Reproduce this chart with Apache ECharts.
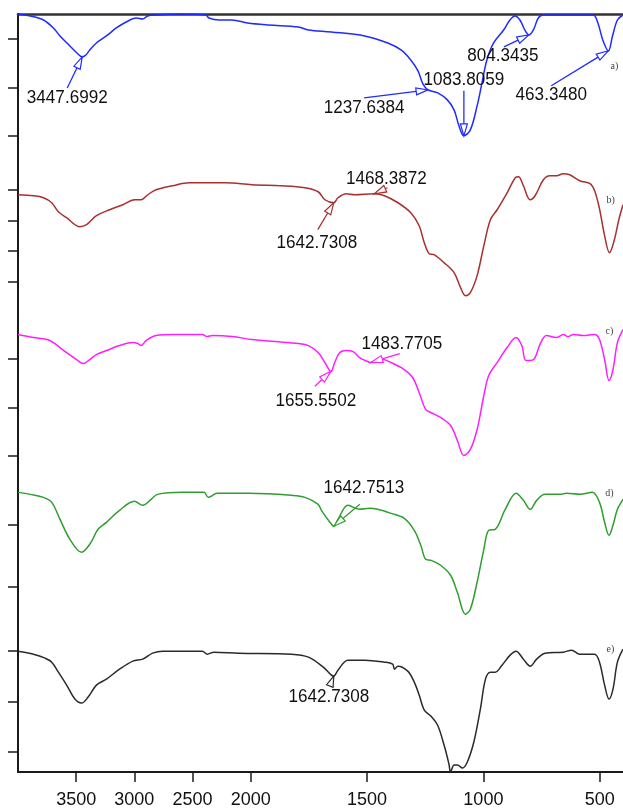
<!DOCTYPE html>
<html>
<head>
<meta charset="utf-8">
<script src="https://cdn.jsdelivr.net/npm/echarts@6/dist/echarts.min.js"></script>
<style>
  html, body { margin: 0; padding: 0; background: #fff; }
  #chart { width: 623px; height: 809px; }
</style>
</head>
<body>
<div id="chart"></div>
<script>
// FTIR spectra, stacked: [wavenumber (cm-1), transmittance (a.u., offset per trace)]
const spectrumA = [
  [4000,759],[3895,757],[3781,753],[3696,745],[3639,737],[3554,727],[3494,720],[3448,716],
  [3417,718],[3383,723],[3326,730],[3240,737],[3155,745],[3070,751],[2984,755],[2928,754],
  [2886,757],[2814,758],[2614,759],[2386,758],[2359,755],[2273,753],[2162,753],[2027,750],
  [1923,748],[1795,746],[1752,743],[1653,741],[1510,737],[1411,730],[1354,723],[1312,713],
  [1281,702],[1260,689],[1238,683],[1196,680],[1155,673],[1126,663],[1105,647],[1084,637],
  [1056,643],[1027,667],[1006,690],[985,713],[956,730],[913,743],[886,753],[864,757],
  [843,753],[822,743],[804,738],[785,743],[764,755],[742,758],[529,758],[508,750],
  [487,733],[463,722],[445,737],[424,753],[400,758]
];
const spectrumB = [
  [4000,578],[3867,577],[3781,575],[3710,570],[3653,561],[3582,555],[3468,546],[3411,548],
  [3326,557],[3212,563],[3099,568],[2999,573],[2942,573],[2885,578],[2813,583],[2672,587],
  [2529,590],[2386,590],[2216,590],[1994,588],[1866,587],[1767,585],[1710,581],[1681,573],
  [1643,570],[1625,575],[1589,579],[1553,578],[1468,579],[1425,577],[1367,570],[1312,560],
  [1276,547],[1254,530],[1233,519],[1212,518],[1169,510],[1126,500],[1098,485],[1077,477],
  [1056,480],[1027,497],[998,527],[970,553],[941,563],[898,580],[863,595],[849,596],
  [828,587],[799,573],[778,577],[742,593],[714,597],[685,597],[657,599],[629,598],
  [586,592],[536,588],[507,570],[479,537],[458,520],[437,533],[418,553],[400,568]
];
const spectrumC = [
  [4000,438],[3867,435],[3752,433],[3696,430],[3639,425],[3582,420],[3496,413],[3440,409],
  [3383,413],[3326,418],[3240,422],[3127,427],[3013,430],[2971,429],[2942,427],[2899,432],
  [2813,437],[2672,438],[2416,438],[2373,436],[2330,437],[2160,436],[1994,433],[1895,431],
  [1795,429],[1752,427],[1710,420],[1681,410],[1655,401],[1639,410],[1617,420],[1589,422],
  [1560,421],[1532,415],[1497,411],[1484,410],[1446,414],[1397,410],[1340,403],[1304,395],
  [1276,380],[1248,363],[1226,360],[1184,355],[1141,347],[1112,332],[1084,317],[1056,323],
  [1027,343],[998,377],[977,397],[941,410],[898,425],[860,435],[835,427],[817,412],
  [785,413],[757,428],[729,437],[686,435],[657,438],[636,436],[614,438],[571,437],
  [522,438],[501,433],[479,413],[460,392],[443,403],[424,430],[400,443]
];
const spectrumD = [
  [4000,280],[3895,278],[3781,275],[3710,270],[3639,253],[3554,233],[3454,220],[3383,228],
  [3312,243],[3240,250],[3127,262],[2999,271],[2928,267],[2856,273],[2800,278],[2587,280],
  [2401,280],[2365,275],[2288,279],[2017,279],[1824,277],[1767,275],[1710,268],[1696,262],
  [1653,248],[1643,246],[1625,253],[1582,267],[1532,263],[1489,264],[1454,263],[1397,259],
  [1340,254],[1297,242],[1269,227],[1248,213],[1226,212],[1184,207],[1141,197],[1112,180],
  [1077,158],[1056,163],[1027,190],[998,223],[977,242],[949,243],[906,263],[859,279],
  [828,272],[799,263],[771,272],[735,278],[671,278],[643,279],[586,278],[532,280],
  [501,270],[479,250],[460,237],[443,247],[424,263],[400,273]
];
const spectrumE = [
  [4000,121],[3867,118],[3767,114],[3710,110],[3653,100],[3582,87],[3511,73],[3454,69],
  [3397,75],[3326,87],[3240,93],[3127,103],[3013,111],[2928,113],[2843,119],[2757,121],
  [2416,121],[2373,118],[2316,120],[2102,119],[1824,118],[1752,115],[1688,105],[1653,97],
  [1643,96],[1625,102],[1582,112],[1510,112],[1425,110],[1390,108],[1382,103],[1367,106],
  [1325,101],[1297,90],[1276,77],[1254,62],[1226,56],[1197,47],[1169,27],[1148,8],
  [1141,0],[1126,7],[1112,7],[1090,4],[1069,10],[1041,30],[1013,63],[991,93],
  [970,100],[949,100],[920,107],[885,117],[860,121],[828,113],[799,106],[771,113],
  [735,119],[657,120],[621,122],[586,118],[522,118],[501,110],[479,87],[460,73],
  [443,83],[424,110],[400,123]
];

const traceNames = ['a)', 'b)', 'c)', 'd)', 'e)'];
const traceColors = ['#1f2bff', '#a8302e', '#ff1eff', '#2f9e2f', '#2a2a2a'];
const wavenumberTicks = [3500, 3000, 2500, 2000, 1500, 1000, 500];
const intensityTicks = [734, 685, 637, 583, 552, 522, 491, 414, 365, 317, 248, 185, 121, 70, 20];

// Peak annotations: trace index and the peak wavenumber as printed
const peakLabels = [
  [0, '3447.6992'], [0, '1237.6384'], [0, '1083.8059'], [0, '804.3435'], [0, '463.3480'],
  [1, '1642.7308'], [1, '1468.3872'],
  [2, '1655.5502'], [2, '1483.7705'],
  [3, '1642.7513'],
  [4, '1642.7308']
];

const spectra = [spectrumA, spectrumB, spectrumC, spectrumD, spectrumE];

// Instrument-style abscissa: the region above 2000 cm-1 is compressed by a factor of 2
function toAxis(w) { return w <= 2000 ? w : 2000 + (w - 2000) / 2; }
function fromAxis(u) { return u <= 2000 ? u : 2000 + (u - 2000) * 2; }

function valueAt(spec, w) {
  for (let i = 0; i < spec.length - 1; i++) {
    const [w0, v0] = spec[i], [w1, v1] = spec[i + 1];
    if (w <= w0 && w >= w1) {
      const t = (w0 - w) / (w0 - w1);
      return v0 + t * (v1 - v0);
    }
  }
  return spec[spec.length - 1][1];
}

const chart = echarts.init(document.getElementById('chart'), null, { renderer: 'canvas' });
const font = '"Liberation Sans", Arial, Helvetica, sans-serif';

chart.setOption({
  animation: false,
  backgroundColor: '#ffffff',
  grid: { left: 18, right: -4, top: 14, bottom: 36 },
  xAxis: [
    {
      type: 'value', min: 400, max: 3000, inverse: true, position: 'bottom',
      axisLine: { show: true, onZero: false, lineStyle: { color: '#1a1a1a', width: 2 } },
      axisTick: { show: true, inside: false, length: 10, customValues: wavenumberTicks.map(toAxis),
                  lineStyle: { color: '#1a1a1a', width: 1.5 } },
      axisLabel: { show: true, customValues: wavenumberTicks.map(toAxis), margin: 19,
                   formatter: v => String(Math.round(fromAxis(v))),
                   fontSize: 18, color: '#111', fontFamily: font },
      splitLine: { show: false }
    },
    {
      type: 'value', min: 400, max: 3000, inverse: true, position: 'top',
      axisLine: { show: true, onZero: false, lineStyle: { color: '#333', width: 2.5 } },
      axisTick: { show: false }, axisLabel: { show: false }, splitLine: { show: false }
    }
  ],
  yAxis: {
    type: 'value', min: 0, max: 759,
    axisLine: { show: true, onZero: false, lineStyle: { color: '#1a1a1a', width: 2 } },
    axisTick: { show: true, inside: false, length: 10, customValues: intensityTicks,
                lineStyle: { color: '#1a1a1a', width: 1.5 } },
    axisLabel: { show: false },
    splitLine: { show: false }
  },
  series: spectra.map((spec, i) => ({
    name: traceNames[i],
    type: 'line',
    xAxisIndex: 0,
    showSymbol: false,
    smooth: 0.35,
    lineStyle: { color: traceColors[i], width: 1.5 },
    itemStyle: { color: traceColors[i] },
    data: spec.map(([w, v]) => [toAxis(w), v])
  }))
});

// Arrow start and text centre, in pixels relative to the arrow tip
const labelOffsets = [
  [[-15, 31], [-15, 41]], [[-64, 8], [-64, 18]], [[0, -45], [0, -56]], [[-25, 12], [-26, 21]], [[-57, 35], [-57, 44]],
  [[-16, 27], [-17, 40]], [[13, -6], [12, -15]],
  [[-16, 15], [-15, 30]], [[29, -9], [31, -18]],
  [[26, -22], [30, -38]],
  [[-4, 10], [-5, 21]]
];

const graphics = [];
peakLabels.forEach(([si, text], k) => {
  const w = parseFloat(text);
  const tip = chart.convertToPixel({ seriesIndex: si }, [toAxis(w), valueAt(spectra[si], w)]);
  const [so, to] = labelOffsets[k];
  const sx = tip[0] + so[0], sy = tip[1] + so[1];
  let dx = tip[0] - sx, dy = tip[1] - sy;
  const len = Math.hypot(dx, dy);
  dx /= len; dy /= len;
  const L = Math.min(12, len), hw = 3.5;
  const bx = tip[0] - dx * L, by = tip[1] - dy * L;
  const color = traceColors[si];
  if (len > L + 0.5) {
    graphics.push({ type: 'line', z: 10, shape: { x1: sx, y1: sy, x2: bx, y2: by },
                    style: { stroke: color, lineWidth: 1.3 } });
  }
  graphics.push({ type: 'polygon', z: 11,
    shape: { points: [[tip[0], tip[1]], [bx - dy * hw, by + dx * hw], [bx + dy * hw, by - dx * hw]] },
    style: { fill: '#ffffff', stroke: color, lineWidth: 1.2 } });
  graphics.push({ type: 'text', z: 12, x: tip[0] + to[0], y: tip[1] + to[1], scaleX: 0.95,
    style: { text: text, fontSize: 18, fontFamily: font, fill: '#111',
             align: 'center', verticalAlign: 'middle' } });
});

// Trace tags near the right edge
const tagAnchors = [[437, 707], [453, 572], [458, 441], [458, 279], [454, 123]];
tagAnchors.forEach(([w, v], i) => {
  const p = chart.convertToPixel({ seriesIndex: i }, [toAxis(w), v]);
  graphics.push({ type: 'text', z: 12, x: p[0], y: p[1],
    style: { text: traceNames[i], fontSize: 10, fontFamily: '"Liberation Serif", "DejaVu Serif", serif',
             fill: '#444', align: 'center', verticalAlign: 'middle' } });
});

chart.setOption({ graphic: graphics });
</script>
</body>
</html>
